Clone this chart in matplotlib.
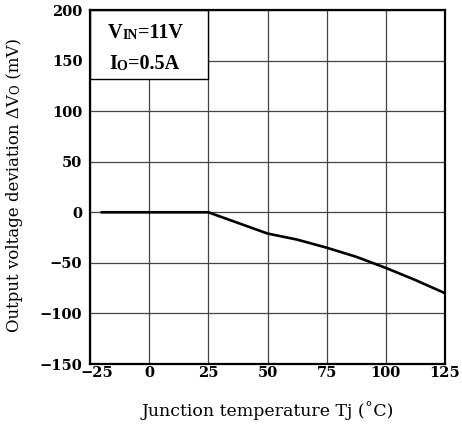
import matplotlib
matplotlib.use('Agg')
import matplotlib.pyplot as plt
import matplotlib.transforms as mtransforms
from matplotlib.patches import Rectangle

plt.rcParams.update({
    'font.family': ['DejaVu Serif'],
    'font.weight': 'bold',
    'font.size': 10.5,
})

BOX_FONT = ['Liberation Serif', 'DejaVu Serif']

# data
temp_c = [-20, 0, 25, 50, 62.5, 75, 87.5, 100, 112.5, 125]
dev_mv = [0, 0, 0, -21, -27, -35, -44, -55, -67, -80]
x_ticks = [-25, 0, 25, 50, 75, 100, 125]
x_labels = ['\u221225', '0', '25', '50', '75', '100', '125']
y_ticks = [-150, -100, -50, 0, 50, 100, 150, 200]
y_labels = ['\u2212150', '\u2212100', '\u221250', '0', '50', '100', '150', '200']

fig = plt.figure(figsize=(4.62, 4.28), dpi=100)
ax = fig.add_axes([90 / 462, 1 - 364 / 428, 355 / 462, 354 / 428])

ax.set_xlim(-25, 125)
ax.set_ylim(-150, 200)
ax.set_xticks(x_ticks)
ax.set_xticklabels(x_labels)
ax.set_yticks(y_ticks)
ax.set_yticklabels(y_labels)
ax.tick_params(axis='both', length=0, labelsize=10.5)
ax.tick_params(axis='x', pad=1.5)
ax.tick_params(axis='y', pad=5.5)
ax.grid(True, color='#444444', linewidth=0.9)
ax.set_axisbelow(True)
for sp in ax.spines.values():
    sp.set_linewidth(1.6)
    sp.set_zorder(5)

# first x label sits a little to the right, clear of "-150"
shift = mtransforms.ScaledTranslation(5 / 72, 0, fig.dpi_scale_trans)
first = ax.get_xticklabels()[0]
first.set_transform(first.get_transform() + shift)

ax.plot(temp_c, dev_mv, color='black', linewidth=1.9, zorder=3)

# condition box
ax.add_patch(Rectangle((-25, 132), 50, 68, facecolor='white', edgecolor='black',
                       linewidth=1.0, zorder=4))

def small_caps_label(x, y, big, small, rest):
    t1 = ax.text(x, y, big, fontsize=14.5, family=BOX_FONT, fontweight='bold',
                 ha='left', va='baseline', zorder=6)
    t2 = ax.annotate(small, xy=(1, 0), xycoords=t1, fontsize=10,
                     family=BOX_FONT, fontweight='bold', ha='left',
                     va='bottom', zorder=6,
                     xytext=(0, 0.6), textcoords='offset points')
    ax.annotate(rest, xy=(1, 0), xycoords=t2, fontsize=14.5, family=BOX_FONT,
                fontweight='bold', ha='left', va='bottom', zorder=6,
                xytext=(0, -0.6), textcoords='offset points')

small_caps_label(-17.5, 172, 'V', 'IN', '=11V')
small_caps_label(-17.0, 142, 'I', 'O', '=0.5A')

ax.set_xlabel('Junction temperature Tj (\u02daC)', fontsize=12.5, fontweight='normal',
              labelpad=15)

# y label with small "O"
y1 = fig.text(15 / 462, 0.225, 'Output voltage deviation \u0394V', rotation=90,
              fontsize=12, fontweight='normal', ha='center', va='bottom')
y2 = ax.annotate('O', xy=(1, 1), xycoords=y1, rotation=90, fontsize=8.5,
                 fontweight='normal', ha='right', va='bottom',
                 xytext=(-0.6, 0), textcoords='offset points',
                 annotation_clip=False)
ax.annotate(' (mV)', xy=(1, 1), xycoords=y2, rotation=90, fontsize=12,
            fontweight='normal', ha='right', va='bottom',
            xytext=(0.6, 0), textcoords='offset points',
            annotation_clip=False)

fig.savefig('out.png', dpi=100)
